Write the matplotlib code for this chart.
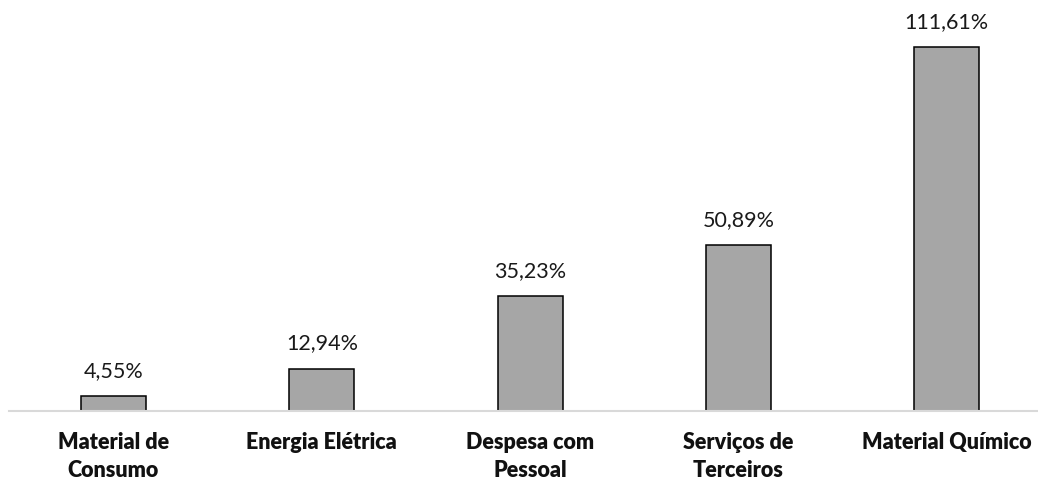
import matplotlib.pyplot as plt

categorias = ["Material de\nConsumo", "Energia Elétrica", "Despesa com\nPessoal",
              "Serviços de\nTerceiros", "Material Químico"]
valores = [4.55, 12.94, 35.23, 50.89, 111.61]
rotulos = ["4,55%", "12,94%", "35,23%", "50,89%", "111,61%"]

plt.rcParams['font.family'] = ['Lato', 'DejaVu Sans']

fig = plt.figure(figsize=(10.38, 4.79), dpi=100)
# eixo um pouco mais largo que a figura, cortado na direita
ax = fig.add_axes([0.0090, 0.142, 1.0034, 0.8166])

x = range(len(categorias))
barras = ax.bar(x, valores, width=0.312, color='#A6A6A6', edgecolor='black', linewidth=1.1)

for b, txt in zip(barras, rotulos):
    ax.annotate(txt, (b.get_x() + b.get_width() / 2, b.get_height()),
                xytext=(0, 11), textcoords='offset points',
                ha='center', va='bottom', fontsize=15.5, color='#1a1a1a')

ax.set_xlim(-0.5, 4.5)
ax.set_ylim(0, 120)
ax.set_xticks(list(x))
ax.set_xticklabels(categorias, fontsize=15.5, fontweight='heavy', color='#111111',
                   linespacing=1.45)
ax.tick_params(axis='x', length=0, pad=15)
ax.set_yticks([])

for s in ['top', 'left', 'right']:
    ax.spines[s].set_visible(False)
ax.spines['bottom'].set_color('#D9D9D9')
ax.spines['bottom'].set_linewidth(1.5)

fig.savefig('out.png', dpi=100)
